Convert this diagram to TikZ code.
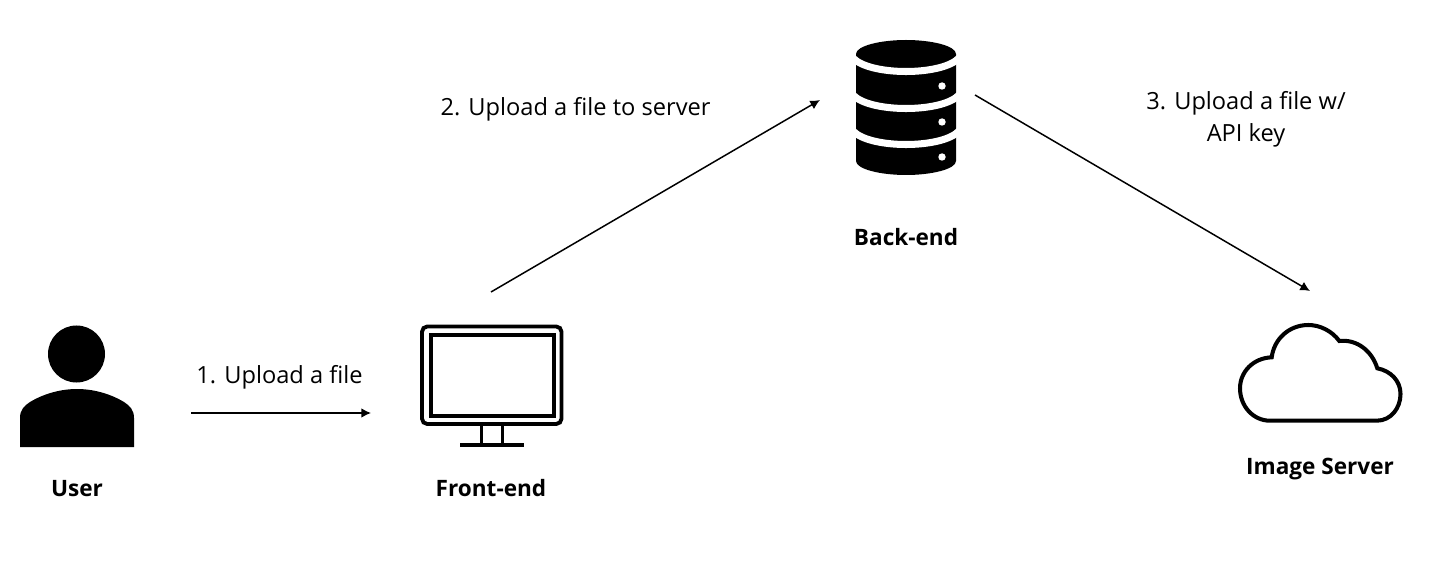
\documentclass[tikz,border=0pt]{standalone}
\usepackage{fontspec}
\setmainfont{Open Sans}
\usetikzlibrary{arrows.meta}

\tikzset{
	flowarrow/.style={line width=0.85pt,-{Latex[length=5.5pt,width=5.5pt]}},
	steplabel/.style={font=\fontsize{13.45}{18.2}\selectfont,align=center},
	iconlabel/.style={font=\fontsize{12.85}{18.2}\selectfont\bfseries},
}

\begin{document}
\begin{tikzpicture}[x=0.02cm,y=-0.02cm]
	\useasboundingbox (0,0) rectangle (1436,587);
	
	%USER
	\fill (76.5,354) circle[x radius=28.5,y radius=28.5];
	\fill (20,447)--(20,418) .. controls (20,410) and (24,406) .. (30,402)
	.. controls (45,393) and (62,389) .. (77,389)
	.. controls (92,389) and (109,393) .. (124,402)
	.. controls (130,406) and (134,410) .. (134,418)--(134,447)--cycle;
	\node[iconlabel] (user) at (77,489) {User};
	
	%FRONT-END
	\draw[line width=2.2pt,rounded corners=3pt] (422,326.5) rectangle (561.5,424);
	\draw[line width=1.9pt] (431,335) rectangle (554,416);
	\draw[line width=2pt] (481.5,424)--(481.5,445) (502.5,424)--(502.5,445);
	\draw[line width=2pt] (460,445)--(524,445);
	\node[iconlabel] (frontend) at (491,488.5) {Front-end};
	
	%BACK-END
	\fill (856,54) .. controls (856,46) and (880,40) .. (906,40)
	.. controls (932,40) and (956,46) .. (956,54)--(956,161)
	.. controls (956,169) and (932,175) .. (906,175)
	.. controls (880,175) and (856,169) .. (856,161)--cycle;
	\foreach \y in {58,95,131} %white bands
		\draw[white,line width=4pt] (853,\y) .. controls (870,\y+18) and (942,\y+18) .. (959,\y);
	\foreach \y in {86,122,157} %disk lights
		\fill[white] (942,\y) circle[x radius=3.7,y radius=3.7];
	\node[iconlabel] (backend) at (906,237) {Back-end};
	
	%IMAGE SERVER
	\draw[line width=2.3pt,line join=miter] (1270,420.7)--(1376.7,420.7)
	.. controls (1391,420.7) and (1400.5,408) .. (1400.5,394)
	.. controls (1400.5,381) and (1391,371) .. (1377.3,368.3)
	.. controls (1372,351) and (1357,339) .. (1339.3,341)
	.. controls (1332,331) and (1320,325) .. (1308.3,325)
	.. controls (1289,325) and (1274,339) .. (1271.7,357.3)
	.. controls (1253,358) and (1240,372) .. (1240,388.3)
	.. controls (1240,406) and (1253,420.7) .. (1270,420.7)--cycle;
	\node[iconlabel] (imageserver) at (1320,469) {Image Server};
	
	%ARROWS
	\coordinate (userout) at (191,413);
	\coordinate (frontin) at (371,413);
	\coordinate (frontout) at (491,292);
	\coordinate (backin) at (820,100);
	\coordinate (backout) at (975,95);
	\coordinate (imagein) at (1310,291);
	\draw[flowarrow] (userout)--(frontin);
	\draw[flowarrow] (frontout)--(backin);
	\draw[flowarrow] (backout)--(imagein);
	
	%LABELS
	\node[steplabel] (uploadfile) at (279.5,377) {1. Upload a file};
	\node[steplabel] (uploadserver) at (575.5,109) {2. Upload a file to server};
	\node[steplabel] (uploadkey) at (1246,119) {3. Upload a file w/\\API key};
\end{tikzpicture}
\end{document}
